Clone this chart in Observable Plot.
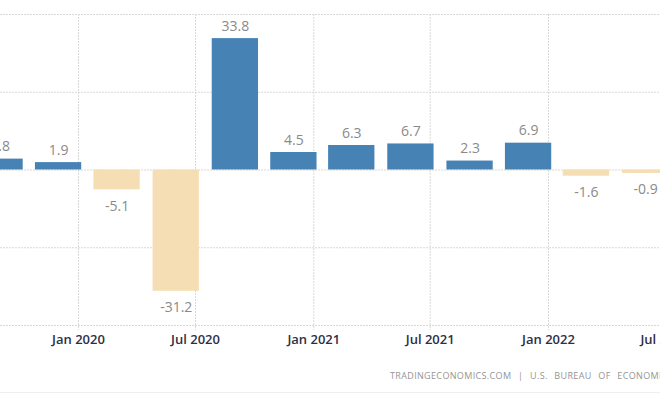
<!DOCTYPE html>
<html>
<head>
<meta charset="utf-8">
<script src="https://cdn.jsdelivr.net/npm/d3@7"></script>
<script src="https://cdn.jsdelivr.net/npm/@observablehq/plot@0.6"></script>
<style>
  html, body { margin: 0; padding: 0; background: #fff; }
  #wrap { position: relative; width: 660px; height: 420px; overflow: hidden; background: #fff; }
  #chart svg { display: block; overflow: hidden; }
  #caption { position: absolute; left: 390px; top: 369px; font: 9px "Open Sans", sans-serif; letter-spacing: 0.35px; word-spacing: 4px; color: #959595; white-space: nowrap; line-height: 14px; }
  #rule { position: absolute; left: 0; top: 392px; width: 660px; height: 1px; background: #efefef; }
</style>
</head>
<body>
<div id="wrap">
  <div id="chart"></div>
  <div id="caption"></div>
  <div id="rule"></div>
</div>
<script>
// Quarterly US GDP growth (annualized, %), plotted at the last month of each quarter
const quarters = ["2019-09-01", "2019-12-01", "2020-03-01", "2020-06-01", "2020-09-01", "2020-12-01",
                  "2021-03-01", "2021-06-01", "2021-09-01", "2021-12-01", "2022-03-01", "2022-06-01"];
const growth = [2.8, 1.9, -5.1, -31.2, 33.8, 4.5, 6.3, 6.7, 2.3, 6.9, -1.6, -0.9];
const tickDates = ["2020-01-01", "2020-07-01", "2021-01-01", "2021-07-01", "2022-01-01", "2022-07-01"];
const tickLabels = ["Jan 2020", "Jul 2020", "Jan 2021", "Jul 2021", "Jan 2022", "Jul 2022"];
const yTicks = [-40, -20, 0, 20, 40];
const captionText = "TRADINGECONOMICS.COM | U.S. BUREAU OF ECONOMIC ANALYSIS";

const data = quarters.map((q, i) => ({date: new Date(q), value: growth[i]}));
const ticks = tickDates.map((t, i) => ({date: new Date(t), label: tickLabels[i]}));
const halfBar = 36; // days on each side of the bar's date

const chart = Plot.plot({
  width: 660,
  height: 360,
  marginLeft: 0, marginRight: 0, marginTop: 0, marginBottom: 0,
  x: {type: "utc", domain: [new Date("2020-01-01"), new Date("2022-01-01")], range: [78, 548], axis: null},
  y: {domain: [-40, 40], range: [325, 14], axis: null},
  style: {background: "#fff"},
  marks: [
    Plot.ruleY(yTicks, {stroke: "#d9d9d9", strokeDasharray: "2,1", strokeWidth: 1}),
    Plot.ruleX(ticks, {x: "date", y1: 40, y2: -40, insetBottom: -5, stroke: "#d9d9d9", strokeDasharray: "2,1", strokeWidth: 1}),
    Plot.rectY(data, {
      x1: d => d3.utcDay.offset(d.date, -halfBar),
      x2: d => d3.utcDay.offset(d.date, halfBar),
      y1: 0,
      y2: "value",
      fill: d => d.value >= 0 ? "#4682b4" : "#f5deb3"
    }),
    Plot.text(data.filter(d => d.value >= 0), {
      x: "date", y: "value", text: d => d.value.toFixed(1),
      lineAnchor: "bottom", dy: -8, fill: "#8a8a8a", fontSize: 14, fontFamily: "Open Sans"
    }),
    Plot.text(data.filter(d => d.value < 0), {
      x: "date", y: "value", text: d => d.value.toFixed(1),
      lineAnchor: "top", dy: 11, fill: "#8a8a8a", fontSize: 14, fontFamily: "Open Sans"
    }),
    Plot.text(ticks, {
      x: "date", y: -40, text: "label", dy: 14, lineAnchor: "middle",
      fill: "#2f2f45", fontSize: 13, fontWeight: 600, fontFamily: "Open Sans"
    })
  ]
});
document.getElementById("chart").append(chart);
document.getElementById("caption").textContent = captionText;
</script>
</body>
</html>
